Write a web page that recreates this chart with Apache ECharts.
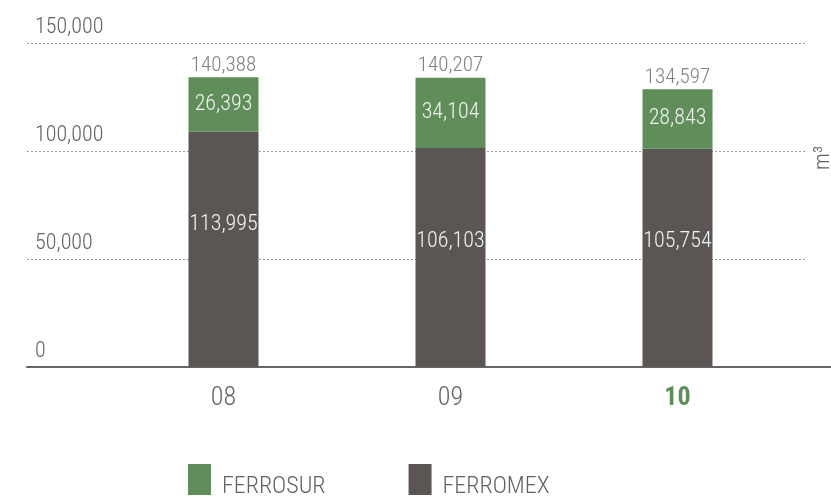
<!DOCTYPE html>
<html>
<head>
<meta charset="utf-8">
<script src="https://cdn.jsdelivr.net/npm/echarts@6/dist/echarts.min.js"></script>
<style>
html,body{margin:0;padding:0;background:#fff;}
#chart{width:831px;height:497px;}
</style>
</head>
<body>
<div id="chart"></div>
<script>
// ---- data ----
const categories = ['08', '09', '10'];
const ferromex = [113995, 106103, 105754];
const ferrosur = [26393, 34104, 28843];
const totals = [140388, 140207, 134597];
const seriesNames = ['FERROSUR', 'FERROMEX'];
const yTicks = [0, 50000, 100000, 150000];
const unitLabel = 'm³';

// ---- styling ----
const FONT = 'Roboto';
const COND = 'condensed';   // font-stretch via canvas font shorthand
const LIGHT = 300;
const GREEN = '#5f8e5a';
const DARK = '#5b5654';
const TEXT = '#626262';
const TOP = 43, BOTTOM = 130;
const BAR_SCALE_MAX = 157000; // scale used by the drawn bars in the reference
const fmt = v => v.toLocaleString('en-US');
const txt = (size, color, extra) => Object.assign({fontFamily: FONT, fontStyle: COND, fontWeight: LIGHT, fontSize: size, color: color}, extra || {});

const chart = echarts.init(document.getElementById('chart'), null, {renderer: 'canvas'});

chart.setOption({
  backgroundColor: '#ffffff',
  animation: false,
  grid: [
    {left: 110, right: 40, top: TOP, bottom: BOTTOM},
    {left: 27, right: 24, top: TOP, bottom: BOTTOM},
    {left: 27, right: 0, top: TOP, bottom: BOTTOM}
  ],
  xAxis: [
    {
      type: 'category', gridIndex: 0, data: categories,
      axisLine: {show: false}, axisTick: {show: false},
      axisLabel: txt(26, TEXT, {
        margin: 18,
        formatter: (v, i) => i === categories.length - 1 ? '{hl|' + v + '}' : v,
        rich: {hl: {fontFamily: FONT, fontStyle: COND, fontSize: 26, fontWeight: 'bold', color: GREEN}}
      })
    },
    {type: 'value', gridIndex: 1, show: false},
    {
      type: 'value', gridIndex: 2, min: 0, max: 1,
      axisLine: {show: true, onZero: false, lineStyle: {color: '#666666', width: 2}},
      axisTick: {show: false}, axisLabel: {show: false}, splitLine: {show: false}
    }
  ],
  yAxis: [
    {type: 'value', gridIndex: 0, min: 0, max: BAR_SCALE_MAX, show: false},
    {
      type: 'value', gridIndex: 1, min: yTicks[0], max: yTicks[yTicks.length - 1],
      interval: yTicks[1] - yTicks[0],
      axisLine: {show: false}, axisTick: {show: false},
      axisLabel: txt(22, TEXT, {
        inside: true, margin: 8,
        verticalAlign: 'bottom', lineHeight: 22, padding: [0, 0, 5, 0],
        formatter: v => fmt(v)
      }),
      splitLine: {show: true, lineStyle: {color: '#9a9a9a', type: [2, 2], width: 1}}
    },
    {type: 'value', gridIndex: 2, show: false}
  ],
  legend: {
    data: seriesNames,
    left: 188, top: 464, padding: 0,
    itemWidth: 23, itemHeight: 31, itemGap: 83,
    icon: 'rect',
    formatter: name => '{n|' + name + '}',
    textStyle: txt(24, TEXT, {
      rich: {n: txt(24, TEXT, {padding: [14, 0, 0, 6]})}
    })
  },
  series: [
    {
      name: 'FERROMEX', type: 'bar', stack: 'total', xAxisIndex: 0, yAxisIndex: 0,
      data: ferromex, barWidth: 70, z: 3,
      itemStyle: {color: DARK},
      label: Object.assign({show: true, position: 'insideTop', distance: 82, formatter: p => fmt(p.value)}, txt(22, '#f2f2f2'))
    },
    {
      name: 'FERROSUR', type: 'bar', stack: 'total', xAxisIndex: 0, yAxisIndex: 0,
      data: ferrosur, barWidth: 70, z: 3,
      itemStyle: {color: GREEN},
      label: Object.assign({show: true, position: 'inside', formatter: p => fmt(p.value)}, txt(22, '#f2f2f2'))
    },
    {
      name: 'total', type: 'scatter', xAxisIndex: 0, yAxisIndex: 0,
      data: totals, symbolSize: 0, z: 4, silent: true,
      label: Object.assign({show: true, position: 'top', distance: 1, formatter: p => fmt(p.value)}, txt(21, TEXT))
    }
  ],
  graphic: [{
    type: 'text', left: 812, top: 146, rotation: Math.PI / 2,
    style: {text: unitLabel, font: COND + ' ' + LIGHT + ' 22px ' + FONT, fill: TEXT}
  }]
});
</script>
</body>
</html>
